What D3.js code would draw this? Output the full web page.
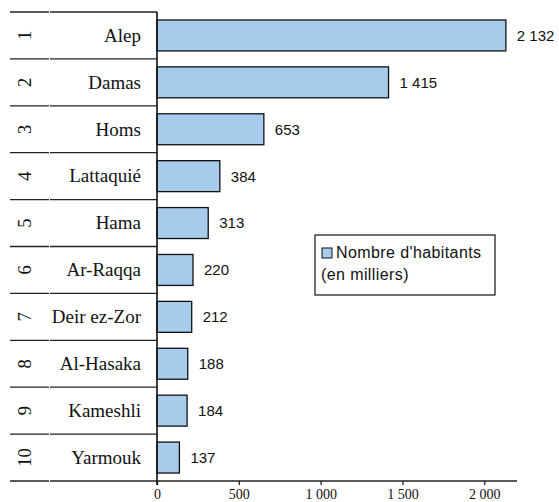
<!DOCTYPE html>
<html>
<head>
<meta charset="utf-8">
<script src="https://cdn.jsdelivr.net/npm/d3@7"></script>
<style>
  body { margin: 0; background: #fff; }
  svg { display: block; }
</style>
</head>
<body>
<svg id="chart"></svg>
<script>
// data
const ranks = [1, 2, 3, 4, 5, 6, 7, 8, 9, 10];
const cities = ["Alep", "Damas", "Homs", "Lattaquié", "Hama", "Ar-Raqqa", "Deir ez-Zor", "Al-Hasaka", "Kameshli", "Yarmouk"];
const population = [2132, 1415, 653, 384, 313, 220, 212, 188, 184, 137];
const xTicks = [0, 500, 1000, 1500, 2000];
const legendLines = ["Nombre d'habitants", "(en milliers)"];

const width = 559;
const height = 502;
const plotLeft = 157, plotRight = 517, plotTop = 12, plotBottom = 481;
const serif = "'Liberation Serif', 'Times New Roman', serif";
const sans = "'Liberation Sans', Arial, sans-serif";

const svg = d3.select("#chart")
    .attr("width", width)
    .attr("height", height);

const x = d3.scaleLinear().domain([0, 2200]).range([plotLeft, plotRight]);
const y = d3.scaleBand().domain(cities).range([plotTop, plotBottom]);
const barH = y.bandwidth() * 0.66;

const fmt = v => d3.format(",")(v).replace(/,/g, " ");

// row separators (rank column and name column)
const seps = d3.range(cities.length + 1).map(i => plotTop + i * y.bandwidth());
svg.selectAll("line.sepA")
    .data(seps)
    .enter()
    .append("line")
    .attr("x1", 10).attr("x2", 49)
    .attr("y1", d => d).attr("y2", d => d)
    .attr("stroke", "#222").attr("stroke-width", 1.3);
svg.selectAll("line.sepB")
    .data(seps)
    .enter()
    .append("line")
    .attr("x1", 50).attr("x2", plotLeft)
    .attr("y1", d => d).attr("y2", d => d)
    .attr("stroke", "#222").attr("stroke-width", 1.3);

// bars
svg.selectAll("rect.bar")
    .data(cities)
    .enter()
    .append("rect")
    .attr("x", x(0))
    .attr("y", d => y(d) + (y.bandwidth() - barH) / 2)
    .attr("width", (d, i) => x(population[i]) - x(0))
    .attr("height", barH)
    .attr("fill", "#a7cbea")
    .attr("stroke", "#111")
    .attr("stroke-width", 1.3);

// value labels
svg.selectAll("text.val")
    .data(cities)
    .enter()
    .append("text")
    .attr("x", (d, i) => x(population[i]) + 11)
    .attr("y", d => y(d) + y.bandwidth() / 2)
    .attr("dy", "0.36em")
    .attr("font-family", sans)
    .attr("font-size", 15)
    .attr("fill", "#111")
    .text((d, i) => fmt(population[i]));

// city names
svg.selectAll("text.name")
    .data(cities)
    .enter()
    .append("text")
    .attr("x", 141)
    .attr("y", d => y(d) + y.bandwidth() / 2)
    .attr("dy", "0.33em")
    .attr("text-anchor", "end")
    .attr("font-family", serif)
    .attr("font-size", 19)
    .attr("fill", "#111")
    .text(d => d);

// ranks, rotated
svg.selectAll("text.rank")
    .data(cities)
    .enter()
    .append("text")
    .attr("transform", (d, i) => `translate(25,${y(d) + y.bandwidth() / 2}) rotate(-90)`)
    .attr("dy", "0.33em")
    .attr("text-anchor", "middle")
    .attr("font-family", serif)
    .attr("font-size", 18.5)
    .attr("fill", "#111")
    .text((d, i) => ranks[i]);

// x axis
const xAxis = svg.append("g")
    .attr("transform", `translate(0,${plotBottom})`)
    .call(d3.axisBottom(x).tickValues(xTicks).tickSize(4).tickFormat(fmt));
xAxis.select(".domain").attr("stroke", "#222").attr("stroke-width", 1.3)
    .attr("d", `M${plotLeft},0H${plotRight}`);
xAxis.selectAll(".tick line").attr("stroke", "#222").attr("stroke-width", 1.3);
xAxis.selectAll(".tick text")
    .attr("font-family", serif)
    .attr("font-size", 14)
    .attr("fill", "#111")
    .attr("y", 8);

// y axis line
svg.append("line")
    .attr("x1", plotLeft).attr("x2", plotLeft)
    .attr("y1", plotTop).attr("y2", plotBottom + 4)
    .attr("stroke", "#111").attr("stroke-width", 1.6);

// legend
const legend = svg.append("g");
legend.append("rect")
    .attr("x", 315).attr("y", 235)
    .attr("width", 180).attr("height", 60)
    .attr("fill", "#fff").attr("stroke", "#111").attr("stroke-width", 1.2);
legend.append("rect")
    .attr("x", 322).attr("y", 248)
    .attr("width", 10).attr("height", 10)
    .attr("fill", "#a7cbea").attr("stroke", "#111").attr("stroke-width", 1);
legend.selectAll("text")
    .data(legendLines)
    .enter()
    .append("text")
    .attr("x", (d, i) => i === 0 ? 336 : 321)
    .attr("y", (d, i) => 258 + i * 22)
    .attr("font-family", sans)
    .attr("font-size", 16)
    .attr("letter-spacing", 0.4)
    .attr("fill", "#111")
    .text(d => d);
</script>
</body>
</html>
